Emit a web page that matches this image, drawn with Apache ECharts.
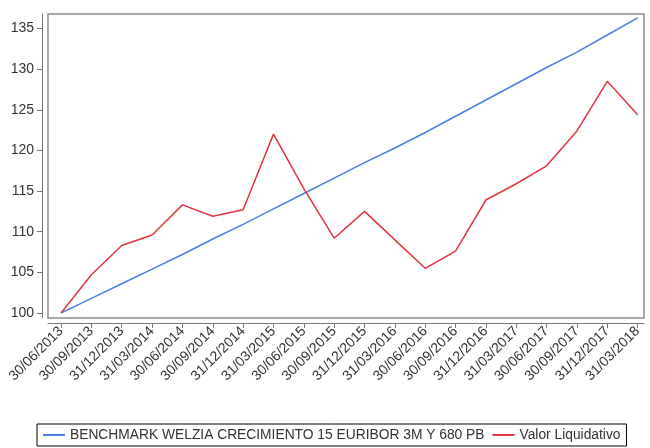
<!DOCTYPE html>
<html>
<head>
<meta charset="utf-8">
<script src="https://cdn.jsdelivr.net/npm/echarts@6/dist/echarts.min.js"></script>
<style>html,body{margin:0;padding:0;background:#fff}#c{width:650px;height:448px}</style>
</head>
<body>
<div id="c"></div>
<script>
const dates = ['30/06/2013','30/09/2013','31/12/2013','31/03/2014','30/06/2014','30/09/2014','31/12/2014','31/03/2015','30/06/2015','30/09/2015','31/12/2015','31/03/2016','30/06/2016','30/09/2016','31/12/2016','31/03/2017','30/06/2017','30/09/2017','31/12/2017','31/03/2018'];
const benchmark = [100.0,101.8,103.6,105.4,107.2,109.1,110.9,112.8,114.7,116.6,118.5,120.3,122.2,124.2,126.2,128.2,130.2,132.1,134.2,136.3];
const valor = [100.0,104.7,108.3,109.6,113.3,111.9,112.7,122.0,115.3,109.2,112.5,109.0,105.5,107.6,113.9,115.9,118.1,122.4,128.5,124.4];
const yTicks = [100,105,110,115,120,125,130,135];
const seriesNames = ['BENCHMARK WELZIA CRECIMIENTO 15 EURIBOR 3M Y 680 PB','Valor Liquidativo'];

const xIdx = dates.map((d,i)=>i);
const chart = echarts.init(document.getElementById('c'));
chart.setOption({
  animation: false,
  backgroundColor: '#fff',
  textStyle: {fontFamily: 'Liberation Sans, Arial, sans-serif'},
  grid: {left: 48, right: 6, top: 14, bottom: 130, show: true, borderColor: '#8c8c8c', borderWidth: 1.5, backgroundColor: '#fff'},
  xAxis: {
    type: 'value', min: -0.43, max: 19.21, offset: 5,
    axisLine: {show: true, onZero: false, lineStyle: {color: '#777', width: 1}},
    axisTick: {show: true, customValues: xIdx, length: 5, lineStyle: {color: '#777'}},
    axisLabel: {customValues: xIdx, rotate: 45, fontSize: 14, color: '#333', margin: 6,
      formatter: v => dates[Math.round(v)]},
    splitLine: {show: false}
  },
  yAxis: {
    type: 'value', min: 99.385, max: 136.78, offset: 6,
    axisLine: {show: true, onZero: false, lineStyle: {color: '#777', width: 1}},
    axisTick: {show: true, customValues: yTicks, length: 5, lineStyle: {color: '#777'}},
    axisLabel: {customValues: yTicks, fontSize: 14, color: '#333', margin: 8},
    splitLine: {show: false}
  },
  legend: {
    left: 37, top: 424, orient: 'horizontal',
    borderColor: '#000', borderWidth: 1, padding: [4, 6, 4, 6],
    icon: 'rect', itemWidth: 22, itemHeight: 2, itemGap: 8,
    textStyle: {fontSize: 13.8, color: '#333'},
    data: seriesNames
  },
  series: [
    {name: seriesNames[0], type: 'line', showSymbol: false, color: '#4a80e2',
      lineStyle: {width: 1.5, color: '#4a80e2'}, data: benchmark.map((v,i)=>[xIdx[i], v])},
    {name: seriesNames[1], type: 'line', showSymbol: false, color: '#e3343f',
      lineStyle: {width: 1.5, color: '#e3343f'}, data: valor.map((v,i)=>[xIdx[i], v])}
  ]
});
</script>
</body>
</html>
